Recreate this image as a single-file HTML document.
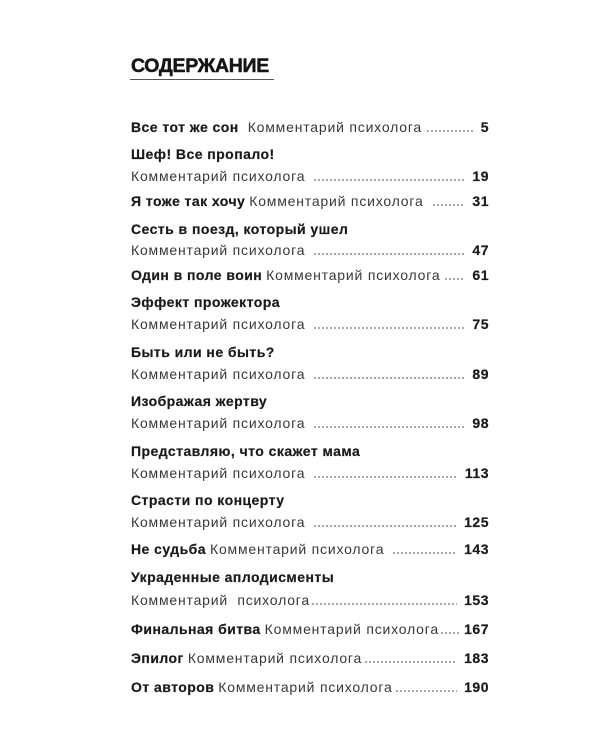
<!DOCTYPE html>
<html><head><meta charset="utf-8">
<style>
html,body{margin:0;padding:0;background:#fff;}
body{width:600px;height:750px;position:relative;overflow:hidden;font-family:"Liberation Sans","DejaVu Sans",sans-serif;}
.t{position:absolute;left:131px;top:56px;font-size:19.5px;line-height:20px;font-weight:bold;color:#151515;letter-spacing:-0.3px;white-space:nowrap;-webkit-text-stroke:0.5px #151515;}
.u{position:absolute;left:130px;top:79px;width:144px;height:1px;background:#555;}
.l{position:absolute;left:131px;width:358px;height:18px;line-height:18px;font-size:14px;display:flex;white-space:nowrap;color:#383838;}
.l b{font-weight:bold;color:#1a1a1a;letter-spacing:0.45px;margin-right:4px;-webkit-text-stroke:0.2px #1a1a1a;}
.l .r{letter-spacing:0.8px;}
.l .d{flex:1;margin-left:4px;margin-right:7px;background-image:radial-gradient(circle at 2px 2px,#8c8c8c 0.75px,rgba(255,255,255,0) 1.15px);background-size:4px 4px;background-repeat:repeat-x;background-position:0 10.8px;}
.l .n{font-weight:bold;color:#1a1a1a;letter-spacing:0.5px;-webkit-text-stroke:0.2px #1a1a1a;}
</style></head><body>
<div class="t">СОДЕРЖАНИЕ</div>
<div class="u"></div>

<div class="l" style="top:118px"><b style="margin-right:9px">Все тот же сон</b><span class="r">Комментарий психолога</span><span class="d"></span><span class="n">5</span></div>
<div class="l" style="top:145px"><b>Шеф! Все пропало!</b></div>
<div class="l" style="top:167px"><span class="r">Комментарий психолога</span><span class="d" style="margin-left:8px"></span><span class="n">19</span></div>
<div class="l" style="top:192px"><b>Я тоже так хочу</b><span class="r">Комментарий психолога</span><span class="d" style="margin-left:8px"></span><span class="n">31</span></div>
<div class="l" style="top:220px"><b>Сесть в поезд, который ушел</b></div>
<div class="l" style="top:241px"><span class="r">Комментарий психолога</span><span class="d" style="margin-left:8px"></span><span class="n">47</span></div>
<div class="l" style="top:266px"><b>Один в поле воин</b><span class="r">Комментарий психолога</span><span class="d"></span><span class="n">61</span></div>
<div class="l" style="top:293px"><b>Эффект прожектора</b></div>
<div class="l" style="top:315px"><span class="r">Комментарий психолога</span><span class="d" style="margin-left:8px"></span><span class="n">75</span></div>
<div class="l" style="top:343px"><b>Быть или не быть?</b></div>
<div class="l" style="top:365px"><span class="r">Комментарий психолога</span><span class="d" style="margin-left:8px"></span><span class="n">89</span></div>
<div class="l" style="top:392px"><b>Изображая жертву</b></div>
<div class="l" style="top:414px"><span class="r">Комментарий психолога</span><span class="d" style="margin-left:8px"></span><span class="n">98</span></div>
<div class="l" style="top:442px"><b>Представляю, что скажет мама</b></div>
<div class="l" style="top:464px"><span class="r">Комментарий психолога</span><span class="d" style="margin-left:8px"></span><span class="n">113</span></div>
<div class="l" style="top:491px"><b>Страсти по концерту</b></div>
<div class="l" style="top:513px"><span class="r">Комментарий психолога</span><span class="d" style="margin-left:8px"></span><span class="n">125</span></div>
<div class="l" style="top:540px"><b>Не судьба</b><span class="r">Комментарий психолога</span><span class="d" style="margin-left:8px"></span><span class="n">143</span></div>
<div class="l" style="top:568px"><b>Украденные аплодисменты</b></div>
<div class="l" style="top:591px"><span class="r">Комментарий&nbsp; психолога</span><span class="d" style="margin-left:1px"></span><span class="n">153</span></div>
<div class="l" style="top:620px"><b>Финальная битва</b><span class="r">Комментарий психолога</span><span class="d" style="margin-left:1px;margin-right:4px"></span><span class="n">167</span></div>
<div class="l" style="top:649px"><b>Эпилог</b><span class="r">Комментарий психолога</span><span class="d" style="margin-left:2px"></span><span class="n">183</span></div>
<div class="l" style="top:678px"><b>От авторов</b><span class="r">Комментарий психолога</span><span class="d" style="margin-left:2px"></span><span class="n">190</span></div>
</body></html>
